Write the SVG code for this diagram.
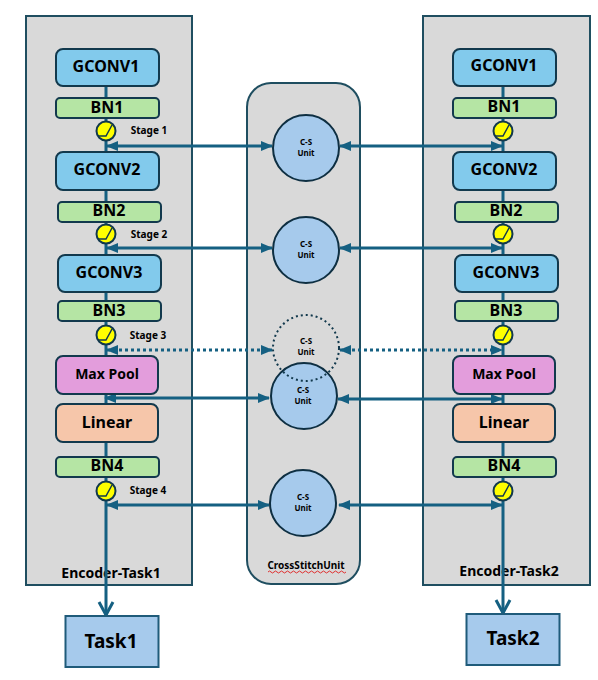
<svg xmlns="http://www.w3.org/2000/svg" width="598" height="680" viewBox="0 0 598 680">
<style>
text{font-family:"Noto Sans","Open Sans","Liberation Sans",sans-serif;font-weight:700;fill:#000;text-anchor:middle}
.panel{fill:#d9d9d9;stroke:#1f4e60;stroke-width:2}
.gc{fill:#82caec;stroke:#12394d;stroke-width:2}
.bn{fill:#b5e5a4;stroke:#12394d;stroke-width:2}
.mp{fill:#e39ddc;stroke:#12394d;stroke-width:2}
.li{fill:#f6c6aa;stroke:#12394d;stroke-width:2}
.task{fill:#a6caec;stroke:#1f5b7a;stroke-width:2}
.cs{fill:#a6caec;stroke:#0e2f42;stroke-width:2}
.y{fill:#ffff00;stroke:#12394d;stroke-width:2}
.n{font-size:16px}.b{font-size:16px}.m{font-size:14px}.s{font-size:10px}.c{font-size:8px}.l{font-size:14px}
.w{stroke:#156082;stroke-width:3;fill:none}
.d{stroke:#156082;stroke-width:3;fill:none;stroke-dasharray:3 3}
.k{stroke:#12394d;stroke-width:1.5;fill:none}
</style>
<defs>
<marker id="a" markerUnits="userSpaceOnUse" markerWidth="12" markerHeight="10" refX="11" refY="5" orient="auto-start-reverse"><path d="M0 0L12 5L0 10z" fill="#156082"/></marker>
<marker id="o" markerUnits="userSpaceOnUse" markerWidth="18" markerHeight="18" refX="15" refY="9" orient="auto"><path d="M2 2L15 9L2 16" fill="none" stroke="#156082" stroke-width="3"/></marker>
</defs>
<g id="encoder-task1"><rect class="panel" x="26" y="16" width="166" height="569"/><text class="l" x="111" y="578">Encoder-Task1</text></g>
<g id="encoder-task2"><rect class="panel" x="423" y="16" width="167" height="569"/><text class="l" x="509" y="576">Encoder-Task2</text></g>
<g id="crossstitch"><rect class="panel" x="247" y="83" width="113" height="501" rx="24" stroke="#12394d"/><text class="s" x="306" y="569">CrossStitchUnit</text><path d="M268 572q1.500-2 3 0t3 0t3 0t3 0t3 0t3 0t3 0t3 0t3 0t3 0t3 0t3 0t3 0t3 0t3 0t3 0t3 0t3 0t3 0t3 0t3 0t3 0t3 0t3 0t3 0t3 0" fill="none" stroke="#e03030" stroke-width="1"/></g>
<g id="connectors">
<path class="w" d="M106 86V615" marker-end="url(#o)"/>
<path class="w" d="M503 86V613" marker-end="url(#o)"/>
<path class="w" d="M107 146H272" marker-start="url(#a)" marker-end="url(#a)"/>
<path class="w" d="M340 146H502" marker-start="url(#a)" marker-end="url(#a)"/>
<path class="w" d="M107 248H272" marker-start="url(#a)" marker-end="url(#a)"/>
<path class="w" d="M340 248H502" marker-start="url(#a)" marker-end="url(#a)"/>
<path class="d" d="M107 350H272" marker-start="url(#a)" marker-end="url(#a)"/>
<path class="d" d="M340 350H502" marker-start="url(#a)" marker-end="url(#a)"/>
<path class="w" d="M105 398H269" marker-start="url(#a)" marker-end="url(#a)"/>
<path class="w" d="M338 399H502" marker-start="url(#a)" marker-end="url(#a)"/>
<path class="w" d="M107 505H269" marker-start="url(#a)" marker-end="url(#a)"/>
<path class="w" d="M339 505H502" marker-start="url(#a)" marker-end="url(#a)"/>
</g>
<g id="gconv1-l"><rect class="gc" x="56" y="49" width="103" height="37" rx="7"/><text class="n" x="106" y="72">GCONV1</text></g>
<g id="bn1-l"><rect class="bn" x="56" y="98" width="103" height="20" rx="4"/><text class="b" x="107" y="113">BN1</text></g>
<g id="stage1-l"><circle class="y" cx="106" cy="131" r="9.500"/><path class="k" d="M98 136H106L112 125"/><text class="s" x="149" y="134">Stage 1</text></g>
<g id="gconv2-l"><rect class="gc" x="56" y="152" width="103" height="38" rx="7"/><text class="n" x="107" y="175">GCONV2</text></g>
<g id="bn2-l"><rect class="bn" x="58" y="202" width="103" height="20" rx="4"/><text class="b" x="109" y="216">BN2</text></g>
<g id="stage2-l"><circle class="y" cx="106" cy="234" r="9.500"/><path class="k" d="M98 239H106L112 228"/><text class="s" x="149" y="238">Stage 2</text></g>
<g id="gconv3-l"><rect class="gc" x="58" y="255" width="103" height="37" rx="7"/><text class="n" x="109" y="278">GCONV3</text></g>
<g id="bn3-l"><rect class="bn" x="58" y="301" width="103" height="20" rx="4"/><text class="b" x="109" y="316">BN3</text></g>
<g id="stage3-l"><circle class="y" cx="106" cy="335" r="9.500"/><path class="k" d="M98 340H106L112 329"/><text class="s" x="148" y="339">Stage 3</text></g>
<g id="maxpool-l"><rect class="mp" x="56" y="356" width="102" height="38" rx="7"/><text class="m" x="107" y="379">Max Pool</text></g>
<g id="linear-l"><rect class="li" x="56" y="404" width="102" height="38" rx="7"/><text class="n" x="107" y="428">Linear</text></g>
<g id="bn4-l"><rect class="bn" x="56" y="457" width="103" height="20" rx="4"/><text class="b" x="107" y="471">BN4</text></g>
<g id="stage4-l"><circle class="y" cx="106" cy="491" r="9.500"/><path class="k" d="M98 496H106L112 485"/><text class="s" x="148" y="494">Stage 4</text></g>
<g id="task1"><rect class="task" x="65.500" y="616" width="93" height="51"/><text x="111" y="648" style="font-size:19px">Task1</text></g>
<g id="gconv1-r"><rect class="gc" x="453" y="49" width="103" height="37" rx="7"/><text class="n" x="504" y="71">GCONV1</text></g>
<g id="bn1-r"><rect class="bn" x="453" y="98" width="103" height="20" rx="4"/><text class="b" x="504" y="112">BN1</text></g>
<g id="stage1-r"><circle class="y" cx="503" cy="131" r="9.500"/><path class="k" d="M495 136H503L509 125"/></g>
<g id="gconv2-r"><rect class="gc" x="453" y="152" width="103" height="38" rx="7"/><text class="n" x="504" y="175">GCONV2</text></g>
<g id="bn2-r"><rect class="bn" x="455" y="202" width="103" height="20" rx="4"/><text class="b" x="506" y="216">BN2</text></g>
<g id="stage2-r"><circle class="y" cx="503" cy="234" r="9.500"/><path class="k" d="M495 239H503L509 228"/></g>
<g id="gconv3-r"><rect class="gc" x="455" y="255" width="103" height="37" rx="7"/><text class="n" x="506" y="278">GCONV3</text></g>
<g id="bn3-r"><rect class="bn" x="455" y="301" width="103" height="20" rx="4"/><text class="b" x="506" y="316">BN3</text></g>
<g id="stage3-r"><circle class="y" cx="503" cy="335" r="9.500"/><path class="k" d="M495 340H503L509 329"/></g>
<g id="maxpool-r"><rect class="mp" x="453" y="356" width="102" height="38" rx="7"/><text class="m" x="504" y="379">Max Pool</text></g>
<g id="linear-r"><rect class="li" x="453" y="404" width="102" height="38" rx="7"/><text class="n" x="504" y="428">Linear</text></g>
<g id="bn4-r"><rect class="bn" x="453" y="457" width="103" height="20" rx="4"/><text class="b" x="504" y="471">BN4</text></g>
<g id="stage4-r"><circle class="y" cx="503" cy="491" r="9.500"/><path class="k" d="M495 496H503L509 485"/></g>
<g id="task2"><rect class="task" x="466.500" y="614" width="93" height="51"/><text x="513" y="645" style="font-size:19px">Task2</text></g>
<g id="cs1"><circle class="cs" cx="306" cy="148" r="33"/><text class="c" x="306" y="145">C-S</text><text class="c" x="306" y="156">Unit</text></g>
<g id="cs2"><circle class="cs" cx="306" cy="250" r="33"/><text class="c" x="306" y="247">C-S</text><text class="c" x="306" y="258">Unit</text></g>
<g id="cs3"><circle class="cs" cx="304" cy="396" r="33"/><text class="c" x="303" y="393">C-S</text><text class="c" x="303" y="404">Unit</text></g>
<g id="cs3-dotted"><circle cx="306" cy="348" r="33" fill="none" stroke="#12394d" stroke-width="2" stroke-dasharray="2 3"/><text class="c" x="306" y="344">C-S</text><text class="c" x="306" y="355">Unit</text></g>
<g id="cs4"><circle class="cs" cx="303" cy="503" r="33"/><text class="c" x="303" y="500">C-S</text><text class="c" x="303" y="511">Unit</text></g>
</svg>
